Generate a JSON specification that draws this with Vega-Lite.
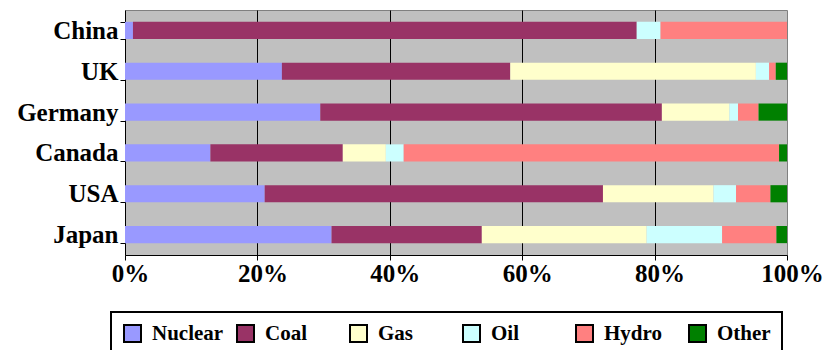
{
  "$schema": "https://vega.github.io/schema/vega-lite/v6.json",
  "width": 662,
  "height": 245,
  "autosize": "none",
  "padding": {"left": 125, "top": 10, "right": 44, "bottom": 95},
  "background": "white",
  "config": {
    "view": {"fill": "#C0C0C0", "stroke": "#808080", "strokeWidth": 1},
    "font": "Liberation Serif",
    "axis": {"labelFont": "Liberation Serif", "labelFontWeight": "bold", "labelColor": "black"},
    "legend": {"labelFont": "Liberation Serif", "labelFontWeight": "bold", "labelColor": "black"}
  },
  "data": {
    "values": [
      {"country": "China", "source": "Nuclear", "ord": 1, "share": 1.2},
      {"country": "China", "source": "Coal", "ord": 2, "share": 76.1},
      {"country": "China", "source": "Gas", "ord": 3, "share": 0},
      {"country": "China", "source": "Oil", "ord": 4, "share": 3.6},
      {"country": "China", "source": "Hydro", "ord": 5, "share": 19.1},
      {"country": "China", "source": "Other", "ord": 6, "share": 0},
      {"country": "UK", "source": "Nuclear", "ord": 1, "share": 23.7},
      {"country": "UK", "source": "Coal", "ord": 2, "share": 34.5},
      {"country": "UK", "source": "Gas", "ord": 3, "share": 37.1},
      {"country": "UK", "source": "Oil", "ord": 4, "share": 2.0},
      {"country": "UK", "source": "Hydro", "ord": 5, "share": 1.0},
      {"country": "UK", "source": "Other", "ord": 6, "share": 1.7},
      {"country": "Germany", "source": "Nuclear", "ord": 1, "share": 29.5},
      {"country": "Germany", "source": "Coal", "ord": 2, "share": 51.6},
      {"country": "Germany", "source": "Gas", "ord": 3, "share": 10.2},
      {"country": "Germany", "source": "Oil", "ord": 4, "share": 1.3},
      {"country": "Germany", "source": "Hydro", "ord": 5, "share": 3.1},
      {"country": "Germany", "source": "Other", "ord": 6, "share": 4.3},
      {"country": "Canada", "source": "Nuclear", "ord": 1, "share": 12.9},
      {"country": "Canada", "source": "Coal", "ord": 2, "share": 20.0},
      {"country": "Canada", "source": "Gas", "ord": 3, "share": 6.5},
      {"country": "Canada", "source": "Oil", "ord": 4, "share": 2.7},
      {"country": "Canada", "source": "Hydro", "ord": 5, "share": 56.7},
      {"country": "Canada", "source": "Other", "ord": 6, "share": 1.2},
      {"country": "USA", "source": "Nuclear", "ord": 1, "share": 21.1},
      {"country": "USA", "source": "Coal", "ord": 2, "share": 51.1},
      {"country": "USA", "source": "Gas", "ord": 3, "share": 16.7},
      {"country": "USA", "source": "Oil", "ord": 4, "share": 3.4},
      {"country": "USA", "source": "Hydro", "ord": 5, "share": 5.2},
      {"country": "USA", "source": "Other", "ord": 6, "share": 2.5},
      {"country": "Japan", "source": "Nuclear", "ord": 1, "share": 31.2},
      {"country": "Japan", "source": "Coal", "ord": 2, "share": 22.7},
      {"country": "Japan", "source": "Gas", "ord": 3, "share": 24.9},
      {"country": "Japan", "source": "Oil", "ord": 4, "share": 11.4},
      {"country": "Japan", "source": "Hydro", "ord": 5, "share": 8.2},
      {"country": "Japan", "source": "Other", "ord": 6, "share": 1.6}
    ]
  },
  "mark": {"type": "bar", "strokeWidth": 0},
  "encoding": {
    "y": {
      "field": "country",
      "type": "nominal",
      "sort": ["China", "UK", "Germany", "Canada", "USA", "Japan"],
      "scale": {"paddingInner": 0.58, "paddingOuter": 0.29},
      "axis": {
        "title": null,
        "tickBand": "extent",
        "tickSize": 5,
        "tickColor": "black",
        "domainColor": "black",
        "labelFont": "Liberation Serif",
        "labelFontWeight": "bold",
        "labelFontSize": 25,
        "labelColor": "black",
        "labelPadding": 2,
        "grid": false
      }
    },
    "x": {
      "field": "share",
      "type": "quantitative",
      "stack": "normalize",
      "scale": {"domain": [0, 1], "nice": false},
      "axis": {
        "title": null,
        "values": [0, 0.2, 0.4, 0.6, 0.8, 1],
        "format": ".0%",
        "grid": true,
        "gridColor": {
          "condition": {"test": "datum.value > 0.001 && datum.value < 0.999", "value": "black"},
          "value": "transparent"
        },
        "gridWidth": 1,
        "tickSize": 5,
        "tickColor": "black",
        "domainColor": "black",
        "labelFont": "Liberation Serif",
        "labelFontWeight": "bold",
        "labelFontSize": 25,
        "labelColor": "black",
        "labelPadding": 1,
        "labelOffset": 5,
        "labelFlush": false,
        "encode": {
          "labels": {"update": {"font": {"value": "Liberation Serif"}, "fontWeight": {"value": "bold"}}}
        }
      }
    },
    "order": {"field": "ord", "type": "quantitative"},
    "color": {
      "field": "source",
      "type": "nominal",
      "scale": {
        "domain": ["Nuclear", "Coal", "Gas", "Oil", "Hydro", "Other"],
        "range": ["#9999FF", "#993366", "#FFFFCC", "#CCFFFF", "#FF8080", "#008000"]
      },
      "legend": {
        "title": null,
        "orient": "none",
        "legendX": -14,
        "legendY": 302,
        "direction": "horizontal",
        "columns": 6,
        "gridAlign": "all",
        "columnPadding": 9,
        "padding": 11,
        "strokeColor": "black",
        "fillColor": "white",
        "symbolType": "square",
        "symbolSize": 289,
        "symbolStrokeColor": "black",
        "symbolStrokeWidth": 2,
        "symbolOpacity": 1,
        "labelFont": "Liberation Serif",
        "labelFontWeight": "bold",
        "labelFontSize": 21,
        "labelColor": "black",
        "labelOffset": 9,
        "labelLimit": 200,
        "encode": {
          "legend": {"update": {"strokeWidth": {"value": 2}}},
          "symbols": {"update": {"stroke": {"value": "black"}}},
          "labels": {"update": {"font": {"value": "Liberation Serif"}, "fontWeight": {"value": "bold"}}}
        }
      }
    }
  }
}
